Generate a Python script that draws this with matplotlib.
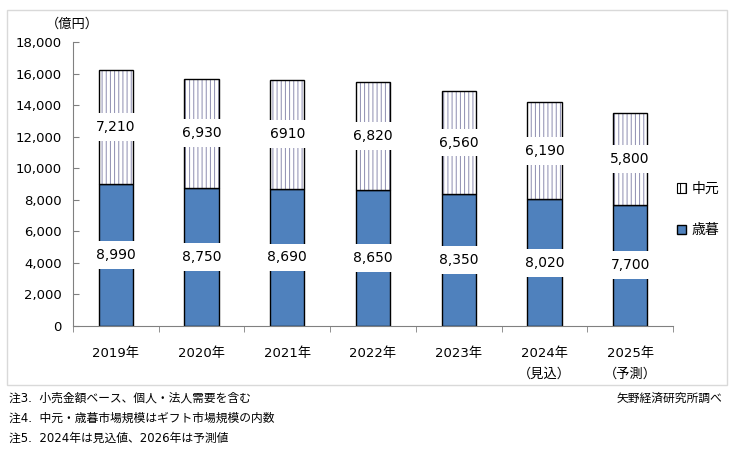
import matplotlib.pyplot as plt
from matplotlib.patches import Rectangle
import numpy as np

plt.rcParams['font.family'] = ['DejaVu Sans', 'Noto Sans CJK JP']
plt.rcParams['hatch.linewidth'] = 0.7

years = ['2019年', '2020年', '2021年', '2022年', '2023年', '2024年\n（見込）', '2025年\n（予測）']
seibo = [8990, 8750, 8690, 8650, 8350, 8020, 7700]
chugen = [7210, 6930, 6910, 6820, 6560, 6190, 5800]
chugen_labels = ['7,210', '6,930', '6910', '6,820', '6,560', '6,190', '5,800']
notes = ['注3.  小売金額ベース、個人・法人需要を含む',
         '注4.  中元・歳暮市場規模はギフト市場規模の内数',
         '注5.  2024年は見込値、2026年は予測値']

fig = plt.figure(figsize=(7.32, 4.65), dpi=100)
fig.patches.append(Rectangle((7/732, 1-385/465), 720/732, 375/465, transform=fig.transFigure,
                             fill=False, edgecolor='#d9d9d9', linewidth=1))
ax = fig.add_axes([73/732, 1-326/465, 600/732, 284/465])

x = np.arange(len(years))
w = 0.4
ax.bar(x, seibo, w, color='#4f81bd', edgecolor='black', linewidth=1, label='歳暮')
# hatch drawn in grey, outline drawn separately in black
ax.bar(x, chugen, w, bottom=seibo, color='white', edgecolor='#8c8cb0', linewidth=0,
       hatch='||||')
ax.bar(x, chugen, w, bottom=seibo, fill=False, edgecolor='black', linewidth=1)

box = dict(facecolor='white', edgecolor='none', pad=5)
for i in range(len(years)):
    ax.text(x[i], seibo[i]/2, f'{seibo[i]:,}', ha='center', va='center', fontsize=10, bbox=box)
    ax.text(x[i], seibo[i] + chugen[i]/2, chugen_labels[i], ha='center', va='center',
            fontsize=10, bbox=box)

ax.set_xlim(-0.5, len(years) - 0.5)
ax.set_ylim(0, 18000)
ax.set_yticks(range(0, 18001, 2000))
ax.set_yticklabels([f'{v:,}' for v in range(0, 18001, 2000)], fontsize=9.5)
ax.set_xticks(x)
ax.set_xticklabels(years, fontsize=9.5, linespacing=1.75, va='top')
ax.set_xticks(np.arange(-0.5, len(years)), minor=True)
ax.tick_params(axis='x', which='major', length=0, pad=15)
ax.tick_params(axis='x', which='minor', length=4, direction='out', color='#808080')
ax.tick_params(axis='y', length=4, direction='in', color='#808080', pad=8)
for s in ['top', 'right']:
    ax.spines[s].set_visible(False)
ax.spines['left'].set_color('#808080')
ax.spines['bottom'].set_color('#808080')

fig.text(72/732, 1-24/465, '（億円）', ha='center', va='center', fontsize=9.5)

hatch_patch = Rectangle((0, 0), 1, 1, facecolor='white', edgecolor='black', linewidth=0.8,
                        hatch='|||')
h, l = ax.get_legend_handles_labels()
ax.legend([hatch_patch, h[0]], ['中元', l[0]], loc='center left', bbox_to_anchor=(0.985, 0.41),
          frameon=False, fontsize=10, handlelength=0.7, handleheight=0.7, labelspacing=2.0,
          handletextpad=0.4)

for i, n in enumerate(notes):
    fig.text(9/732, 1-(398 + 20*i)/465, n, ha='left', va='center', fontsize=8.5)
fig.text(722/732, 1-398/465, '矢野経済研究所調べ', ha='right', va='center', fontsize=8.5)

fig.savefig('out.png', dpi=100)
